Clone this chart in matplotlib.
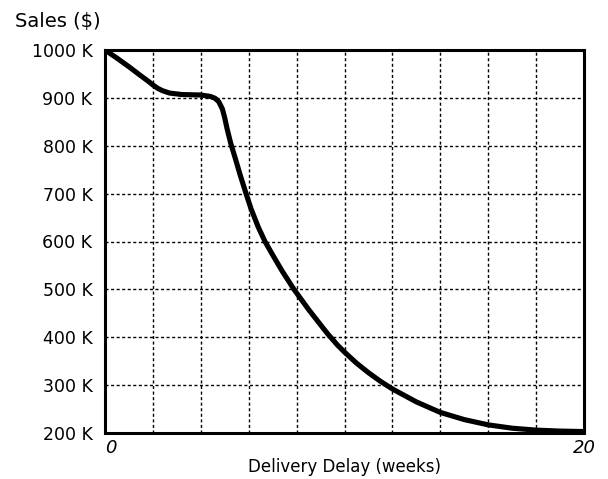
import matplotlib
matplotlib.use("Agg")
import matplotlib.pyplot as plt

# Data (weeks, sales in K$)
delay_weeks = [0, 0.5, 1, 1.5, 1.8, 2.0, 2.2, 2.4, 2.7, 3.2, 4.0, 4.4, 4.6, 4.75, 4.9, 5.0, 5.1,
               5.25, 5.45, 5.65, 5.89, 6.1, 6.4, 6.68, 7.0, 7.4, 7.89, 8.5, 9.0, 9.3, 9.7, 10.0,
               10.5, 11.0, 11.5, 12.0, 13.0, 14.0, 15.0, 16.0, 17.0, 18.0, 19.0, 20.0]
sales_k = [1000, 983, 965, 946, 935, 927, 920, 915, 910, 907, 906, 903, 899, 892, 877, 858, 835,
           805, 772, 738, 700, 668, 630, 600, 572, 538, 500, 458, 426, 407, 384, 369,
           346, 326, 308, 292, 265, 243, 228, 217, 210, 206, 204, 203]

y_ticks = [200, 300, 400, 500, 600, 700, 800, 900, 1000]
y_tick_labels = [f"{v} K" for v in y_ticks]
x_grid = list(range(0, 21, 2))
x_tick_labels = {0: "0", 20: "20"}

fig = plt.figure(figsize=(6.08, 4.79), dpi=100)
ax = fig.add_axes([105/608, 1-433/479, (584-105)/608, (433-50)/479])

ax.plot(delay_weeks, sales_k, color="black", lw=3.7, solid_capstyle="butt",
        solid_joinstyle="round", zorder=3)

ax.set_xlim(0, 20)
ax.set_ylim(200, 1000)
ax.set_xticks(x_grid)
ax.set_xticklabels([x_tick_labels.get(v, "") for v in x_grid], fontsize=13, style="italic")
ax.set_yticks(y_ticks)
ax.set_yticklabels(y_tick_labels, fontsize=12.5)
ax.tick_params(length=0, pad=9)
ax.tick_params(axis="x", pad=4)
for lbl in ax.get_xticklabels():
    if lbl.get_text() == "0":
        lbl.set_ha("left")

ax.grid(True, color="black", lw=1.0, linestyle=(0, (2.2, 1.8)), zorder=1)
for s in ax.spines.values():
    s.set_linewidth(2.2)
    s.set_color("black")
    s.set_zorder(4)

ax.set_xlabel("Delivery Delay (weeks)", fontsize=12, labelpad=1)
fig.text(15/608, 1-22/479, "Sales ($)", fontsize=14, ha="left", va="center")

fig.savefig("out.png", dpi=100)
